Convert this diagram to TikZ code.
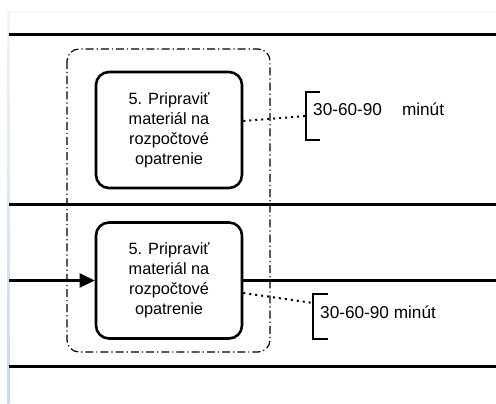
\documentclass[tikz,border=0pt]{standalone}
\usepackage{fontspec}
\setmainfont{Liberation Sans}
\usetikzlibrary{arrows.meta}
\definecolor{edgeblue}{RGB}{196,218,242}
\definecolor{edgetop}{RGB}{240,245,251}
\begin{document}
\begin{tikzpicture}[x=1pt,y=-1pt,
  lane/.style={line width=3pt,black},
  task/.style={draw,line width=2.6pt,rounded corners=13pt,minimum width=146pt,minimum height=116pt,inner sep=0pt,align=center,font=\fontsize{16.3}{20}\selectfont},
  grp/.style={draw,line width=1.2pt,rounded corners=12pt,dash pattern=on 8pt off 3pt on 1.2pt off 3pt},
  assoc/.style={line width=2pt,dash pattern=on 2pt off 4pt},
  brk/.style={line width=2.6pt},
  note/.style={anchor=west,inner sep=0pt,font=\fontsize{17.2}{20}\selectfont}]
\useasboundingbox (0,0) rectangle (496,404);
\fill[white] (0,0) rectangle (496,404);
% faint frame
\draw[line width=1pt,edgetop] (8,12) -- (496,12);
\shade[top color=edgetop,bottom color=edgeblue] (7.3,12) rectangle (9.3,404);
% lanes
\draw[lane] (9,34.5) -- (496,34.5);
\draw[lane] (9,204.5) -- (496,204.5);
\draw[lane] (9,366.5) -- (496,366.5);
% group
\draw[grp] (67,49) rectangle (270,352);
% tasks
\node[task] (t1) at (169,130) {5. Pripraviť\\materiál na\\rozpočtové\\opatrenie};
\node[task] (t2) at (169,280.5) {5. Pripraviť\\materiál na\\rozpočtové\\opatrenie};
% flow
\coordinate (in) at (9,280.5);
\coordinate (out) at (496,280.5);
\draw[line width=2.6pt,-{Triangle[length=15pt,width=14pt]}] (in) -- (t2.west);
\draw[line width=2.6pt] (t2.east) -- (out);
% annotations
\coordinate (b1) at (306,116);
\draw[brk] (320,92) -- (306,92) -- (306,140) -- (320,140);
\node[note] (n1) at (313,109) {30-60-90\hspace{20pt}minút};
\draw[assoc] (t1.east |- 0,121) -- (b1);
\coordinate (b2) at (313,303);
\draw[brk] (328,294) -- (313,294) -- (313,339) -- (328,339);
\node[note] (n2) at (320,312) {30-60-90 minút};
\draw[assoc] (t2.east |- 0,293) -- (b2);
\end{tikzpicture}
\end{document}
